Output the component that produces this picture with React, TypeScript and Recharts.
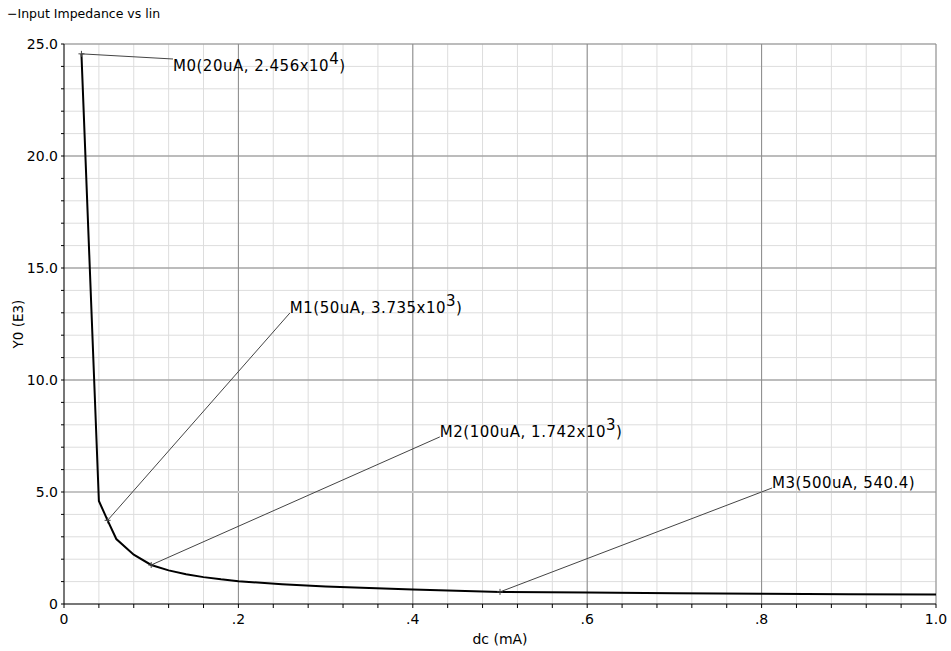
import { LineChart, Line, XAxis, YAxis, CartesianGrid, ReferenceLine, ReferenceDot, Label } from 'recharts';

// sweep: dc current (mA) vs input impedance (E3 ohm)
const currentMA = [0.02, 0.04, 0.05, 0.06, 0.08, 0.1, 0.12, 0.14, 0.16, 0.18, 0.2, 0.25, 0.3, 0.35, 0.4, 0.45, 0.5, 0.6, 0.7, 0.8, 0.9, 1.0];
const impedanceE3 = [24.56, 4.6, 3.735, 2.9, 2.2, 1.742, 1.5, 1.33, 1.2, 1.1, 1.02, 0.88, 0.78, 0.71, 0.65, 0.59, 0.5404, 0.51, 0.48, 0.46, 0.44, 0.42];

const xTicks = [0, 0.04, 0.08, 0.12, 0.16, 0.2, 0.24, 0.28, 0.32, 0.36, 0.4, 0.44, 0.48, 0.52, 0.56, 0.6, 0.64, 0.68, 0.72, 0.76, 0.8, 0.84, 0.88, 0.92, 0.96, 1.0];
const yTicks = [0, 1, 2, 3, 4, 5, 6, 7, 8, 9, 10, 11, 12, 13, 14, 15, 16, 17, 18, 19, 20, 21, 22, 23, 24, 25];
const xMajor = [0.2, 0.4, 0.6, 0.8];
const yMajor = [10, 15, 20];

// markers: point on curve, where the leader line ends, and the label text
const markerX = [0.02, 0.05, 0.1, 0.5];
const markerY = [24.56, 3.735, 1.742, 0.5404];
const labelX = [0.125, 0.259, 0.431, 0.812];
const labelY = [24.33, 12.99, 7.46, 5.18];
const markerText = ['M0(20uA, 2.456x10', 'M1(50uA, 3.735x10', 'M2(100uA, 1.742x10', 'M3(500uA, 540.4)'];
const markerExp = ['4', '3', '3', ''];

const data = currentMA.map((x, i) => ({ x, y: impedanceE3[i] }));

const font = '"DejaVu Sans", sans-serif';

function fmtX(v: number) {
  if (Math.abs(v * 5 - Math.round(v * 5)) > 1e-6) return '';
  if (v === 0) return '0';
  if (v >= 1) return v.toFixed(1);
  return v.toFixed(1).replace(/^0/, '');
}

function fmtY(v: number) {
  if (v % 5 !== 0) return '';
  return v === 0 ? '0' : v.toFixed(1);
}

function MarkerText({ viewBox, text, exp, dy }: any) {
  if (!viewBox) return null;
  return (
    <text x={viewBox.x} y={viewBox.y + dy} fontFamily={font} fontSize={15} letterSpacing={0.5} fill="#000">
      {text}
      {exp && <tspan dy={-7}>{exp}</tspan>}
      {exp && <tspan dy={7}>)</tspan>}
    </text>
  );
}

const cross = (props: any) => (
  <path d={`M${props.cx - 3},${props.cy}L${props.cx + 3},${props.cy}M${props.cx},${props.cy - 3}L${props.cx},${props.cy + 3}`} stroke="#444" strokeWidth={1} />
);

export default function App() {
  return (
    <div style={{ position: 'absolute', left: 0, top: 0, width: 951, height: 651, background: '#fff' }}>
      <div style={{ position: 'absolute', left: 7, top: 6, fontFamily: font, fontSize: 12.5, color: '#000' }}>
        −Input Impedance vs lin
      </div>
      <LineChart width={951} height={651} data={data} margin={{ top: 44, right: 15, bottom: 17, left: 8 }}>
        <CartesianGrid stroke="#dddddd" strokeWidth={1} />
        <XAxis
          dataKey="x"
          type="number"
          domain={[0, 1]}
          ticks={xTicks}
          interval={0}
          tickFormatter={fmtX}
          height={30}
          tickSize={4}
          tickMargin={6}
          stroke="#000"
          tick={{ fill: '#000', fontSize: 14, fontFamily: font }}
        >
          <Label value="dc (mA)" position="insideBottom" offset={-10} style={{ fill: '#000', fontSize: 14, fontFamily: font }} />
        </XAxis>
        <YAxis
          type="number"
          domain={[0, 25]}
          ticks={yTicks}
          interval={0}
          tickFormatter={fmtY}
          width={56}
          tickSize={3}
          tickMargin={3}
          stroke="#000"
          tick={{ fill: '#000', fontSize: 14, fontFamily: font }}
        >
          <Label value="Y0 (E3)" angle={-90} position="insideLeft" offset={10} style={{ fill: '#000', fontSize: 13.5, fontFamily: font, textAnchor: 'middle' }} />
        </YAxis>
        {xMajor.map((v) => (
          <ReferenceLine key={'vx' + v} x={v} stroke="#8a8a8a" strokeWidth={1} />
        ))}
        {yMajor.map((v) => (
          <ReferenceLine key={'hy' + v} y={v} stroke="#8a8a8a" strokeWidth={1} />
        ))}
        <ReferenceLine y={5} stroke="#c4c4c4" strokeWidth={2} />
        <ReferenceLine y={25} stroke="#8a8a8a" strokeWidth={1} />
        <ReferenceLine x={1} stroke="#8a8a8a" strokeWidth={1} />
        {markerX.map((mx, i) => (
          <ReferenceLine
            key={'ml' + i}
            segment={[{ x: mx, y: markerY[i] }, { x: labelX[i], y: labelY[i] }]}
            stroke="#444"
            strokeWidth={1}
          />
        ))}
        <Line
          type="linear"
          dataKey="y"
          stroke="#000"
          strokeWidth={2}
          dot={false}
          activeDot={false}
          isAnimationActive={false}
        />
        {markerX.map((mx, i) => (
          <ReferenceDot key={'md' + i} x={mx} y={markerY[i]} r={3} shape={cross} />
        ))}
        {markerX.map((_, i) => (
          <ReferenceDot
            key={'mt' + i}
            x={labelX[i]}
            y={labelY[i]}
            r={0}
            fill="none"
            stroke="none"
            label={(p: any) => (
              <MarkerText viewBox={p.viewBox} text={markerText[i]} exp={markerExp[i]} dy={i === 0 ? 12 : 0} />
            )}
          />
        ))}
      </LineChart>
    </div>
  );
}
